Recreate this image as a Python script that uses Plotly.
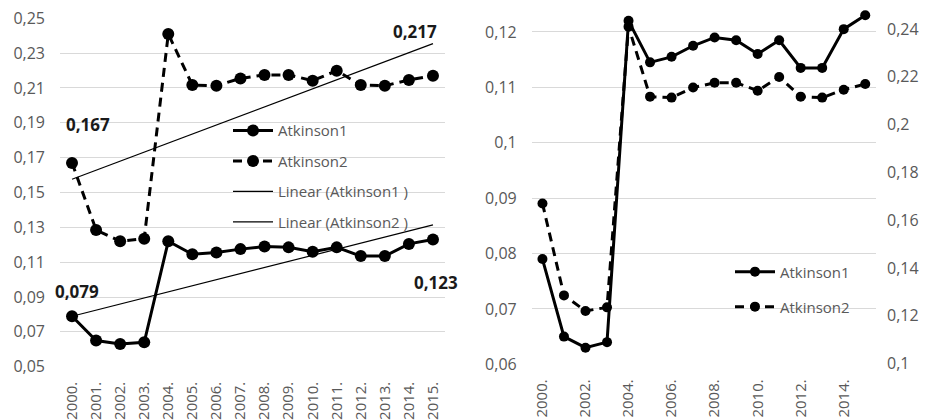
import numpy as np
import plotly.graph_objects as go

years = ["2000.", "2001.", "2002.", "2003.", "2004.", "2005.", "2006.", "2007.",
         "2008.", "2009.", "2010.", "2011.", "2012.", "2013.", "2014.", "2015."]
atkinson1 = [0.079, 0.065, 0.063, 0.064, 0.122, 0.1145, 0.1155, 0.1175,
             0.119, 0.1185, 0.116, 0.1185, 0.1135, 0.1135, 0.1205, 0.123]
atkinson2 = [0.167, 0.1285, 0.122, 0.1235, 0.241, 0.2117, 0.2113, 0.2155,
             0.2175, 0.2175, 0.2142, 0.2199, 0.2117, 0.2113, 0.2146, 0.217]

left_yticks = [0.05, 0.07, 0.09, 0.11, 0.13, 0.15, 0.17, 0.19, 0.21, 0.23, 0.25]
left_yticktext = ["0,05", "0,07", "0,09", "0,11", "0,13", "0,15", "0,17", "0,19", "0,21", "0,23", "0,25"]
right_yticks = [0.06, 0.07, 0.08, 0.09, 0.10, 0.11, 0.12]
right_yticktext = ["0,06", "0,07", "0,08", "0,09", "0,1", "0,11", "0,12"]
right_y2ticks = [0.10, 0.12, 0.14, 0.16, 0.18, 0.20, 0.22, 0.24]
right_y2ticktext = ["0,1", "0,12", "0,14", "0,16", "0,18", "0,2", "0,22", "0,24"]
right_xticks = ["2000.", "2002.", "2004.", "2006.", "2008.", "2010.", "2012.", "2014."]

FONT = "Open Sans"
GREY = "#595959"
GRID = "#d9d9d9"
W, H = 927, 420
OFF = 8  # page body margin offset


def px(x):
    return (x - OFF) / W


def py(y):
    return (H - (y - OFF)) / H


# Excel-style linear trend lines (least squares on the series)
idx = np.arange(1, len(years) + 1)
trend1 = np.polyval(np.polyfit(idx, atkinson1, 1), idx)
trend2 = np.polyval(np.polyfit(idx, atkinson2, 1), idx)

fig = go.Figure()

# ---- left chart ----
fig.add_trace(go.Scatter(x=years, y=atkinson1, name="Atkinson1", mode="lines+markers",
                         line=dict(color="black", width=3), marker=dict(size=12, color="black"),
                         cliponaxis=False,
                         xaxis="x", yaxis="y", legend="legend", legendgroup="a1"))
fig.add_trace(go.Scatter(x=years, y=atkinson2, name="Atkinson2", mode="lines+markers",
                         line=dict(color="black", width=3, dash="9px,6px"),
                         marker=dict(size=12, color="black"), cliponaxis=False,
                         xaxis="x", yaxis="y", legend="legend", legendgroup="a2"))
fig.add_trace(go.Scatter(x=years, y=trend1, name="Linear (Atkinson1 )", mode="lines",
                         line=dict(color="black", width=1.2),
                         xaxis="x", yaxis="y", legend="legend", legendgroup="t1"))
fig.add_trace(go.Scatter(x=years, y=trend2, name="Linear (Atkinson2 )", mode="lines",
                         line=dict(color="black", width=1.2),
                         xaxis="x", yaxis="y", legend="legend", legendgroup="t2"))

# ---- right chart ----
fig.add_trace(go.Scatter(x=years, y=atkinson1, name="Atkinson1", mode="lines+markers",
                         line=dict(color="black", width=3), marker=dict(size=10, color="black"),
                         cliponaxis=False,
                         xaxis="x2", yaxis="y3", legend="legend2", legendgroup="r1"))
fig.add_trace(go.Scatter(x=years, y=atkinson2, name="Atkinson2", mode="lines+markers",
                         line=dict(color="black", width=3, dash="9px,6px"),
                         marker=dict(size=10, color="black"), cliponaxis=False,
                         xaxis="x2", yaxis="y4", legend="legend2", legendgroup="r2"))

tickfont = dict(family=FONT, size=16, color=GREY)
xtickfont = dict(family=FONT, size=15, color=GREY)
legfont = dict(family=FONT, size=15, color=GREY)

common = dict(automargin=False, showline=False, ticks="", zeroline=False,
              ticklabeloverflow="allow")

fig.update_layout(
    width=W, height=H,
    margin=dict(l=0, r=0, t=0, b=0),
    paper_bgcolor="white", plot_bgcolor="white",
    separators=", ",
    font=dict(family=FONT, size=14, color=GREY),
    xaxis=dict(domain=[px(60), px(445)], type="category", tickangle=-90,
               categoryorder="array", categoryarray=years, range=[-0.5, len(years) - 0.5],
               tickvals=years, ticktext=years, tickfont=xtickfont, ticklabelstandoff=11,
               showgrid=False, anchor="y", **common),
    yaxis=dict(domain=[py(366.7), py(18.3)], range=[0.05, 0.25],
               tickvals=left_yticks, ticktext=left_yticktext, tickfont=tickfont,
               ticklabelstandoff=14,
               showgrid=True, gridcolor=GRID, gridwidth=1, anchor="x", **common),
    xaxis2=dict(domain=[px(531.7), px(876)], type="category", tickangle=-90,
                categoryorder="array", categoryarray=years, range=[-0.5, len(years) - 0.5],
                tickvals=right_xticks, ticktext=right_xticks, tickfont=xtickfont,
                ticklabelstandoff=11,
                showgrid=False, anchor="y3", **common),
    yaxis3=dict(domain=[py(364.3), py(12)],
                range=[0.06, 0.06 + (364.3 - 12) / 5540],
                tickvals=right_yticks, ticktext=right_yticktext, tickfont=tickfont,
                ticklabelstandoff=14,
                showgrid=True, gridcolor=GRID, gridwidth=1, anchor="x2", **common),
    yaxis4=dict(overlaying="y3", side="right",
                range=[0.1 - 0.8 / 2389, 0.1 + (363.5 - 12) / 2389],
                tickvals=right_y2ticks, ticktext=right_y2ticktext, tickfont=tickfont,
                ticklabelstandoff=10,
                showgrid=False, anchor="x2", **common),
    legend=dict(x=px(228), y=py(114.2), xanchor="left", yanchor="top",
                bgcolor="rgba(0,0,0,0)", font=legfont,
                traceorder="grouped", tracegroupgap=8, itemwidth=40),
    legend2=dict(x=px(730), y=py(255.4), xanchor="left", yanchor="top",
                 bgcolor="rgba(0,0,0,0)", font=legfont,
                 traceorder="grouped", tracegroupgap=12.5, itemwidth=40),
    showlegend=True,
)


def fmt(v):
    return ("%.3f" % v).replace(".", ",")


first, last = 0, len(years) - 1
labels = [
    (first, atkinson2[first], 16, 38),
    (last, atkinson2[last], -18, 44),
    (first, atkinson1[first], 5, 25),
    (last, atkinson1[last], 3, -43),
]
for x, y, dx, dy in labels:
    fig.add_annotation(x=x, y=y, xref="x", yref="y", text="<b>" + fmt(y) + "</b>",
                       showarrow=False, xshift=dx, yshift=dy,
                       font=dict(family=FONT, size=17, color="#1a1a1a"))

fig.write_html("out.html")
